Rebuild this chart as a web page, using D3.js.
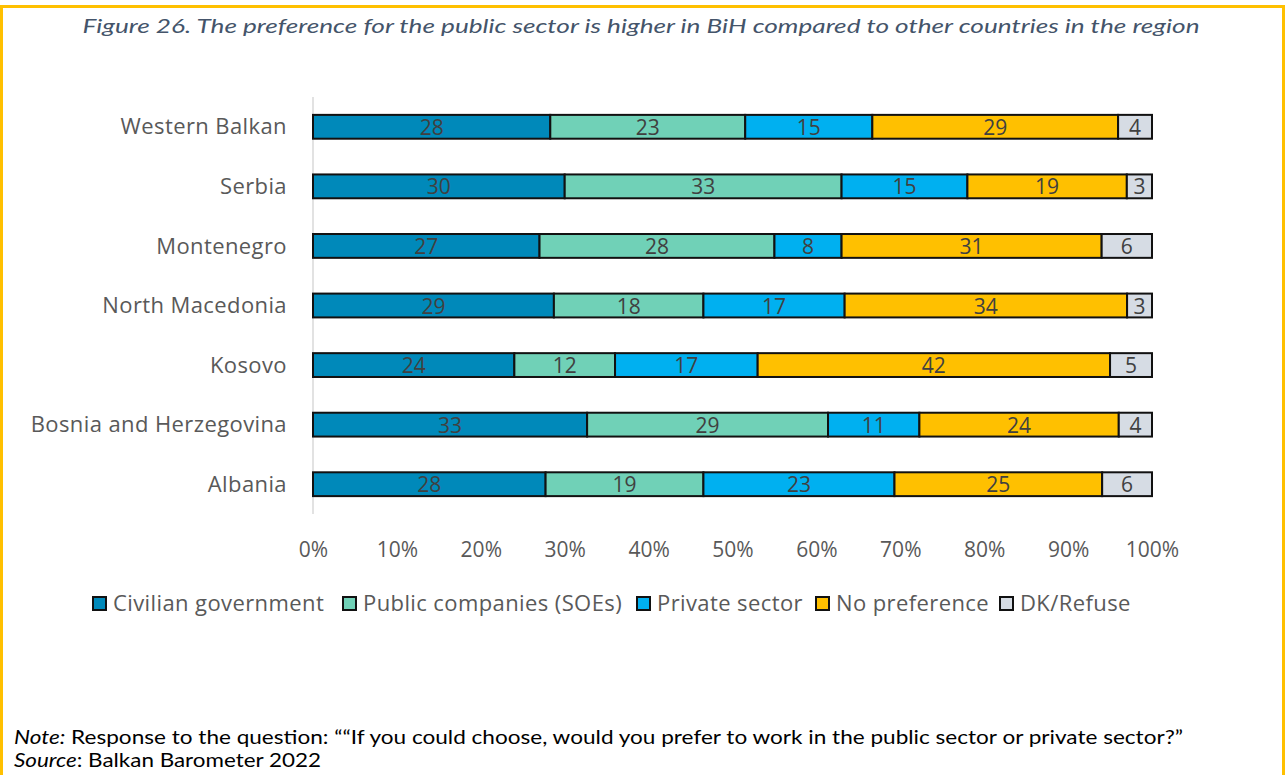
<!DOCTYPE html>
<html>
<head>
<meta charset="utf-8">
<script src="https://cdn.jsdelivr.net/npm/d3@7"></script>
<style>
  html, body { margin: 0; padding: 0; background: #fff; }
  svg { display: block; }
</style>
</head>
<body>
<svg id="chart" width="1288" height="775"></svg>
<script>
// Countries, top to bottom
const countries = ["Western Balkan", "Serbia", "Montenegro", "North Macedonia", "Kosovo", "Bosnia and Herzegovina", "Albania"];

// Series names and colours
const seriesNames = ["Civilian government", "Public companies (SOEs)", "Private sector", "No preference", "DK/Refuse"];
const seriesColors = ["#0089BA", "#70D1B7", "#00B0F0", "#FFC000", "#D6DCE4"];

// Share of respondents (%) per series, in country order
const civilianGov = [28, 30, 27, 29, 24, 33, 28];
const publicCompanies = [23, 33, 28, 18, 12, 29, 19];
const privateSector = [15, 15, 8, 17, 17, 11, 23];
const noPreference = [29, 19, 31, 34, 42, 24, 25];
const dkRefuse = [4, 3, 6, 3, 5, 4, 6];

const tickValues = [0, 0.1, 0.2, 0.3, 0.4, 0.5, 0.6, 0.7, 0.8, 0.9, 1.0];

const titleText = "Figure 26. The preference for the public sector is higher in BiH compared to other countries in the region";
const noteText = "Response to the question: \u201C\u201CIf you could choose, would you prefer to work in the public sector or private sector?\u201D";
const sourceText = "Balkan Barometer 2022";

const seriesValues = [civilianGov, publicCompanies, privateSector, noPreference, dkRefuse];
const rows = countries.map((c, i) => {
  const r = { country: c };
  seriesNames.forEach((s, j) => { r[s] = seriesValues[j][i]; });
  return r;
});

const svg = d3.select("#chart");
const W = 1288, H = 775;

// Frame
const gold = "#FFC000";
svg.append("rect").attr("x", 0).attr("y", 5).attr("width", 1285).attr("height", 3).attr("fill", gold);
svg.append("rect").attr("x", 0).attr("y", 5).attr("width", 3).attr("height", H - 5).attr("fill", gold);
svg.append("rect").attr("x", 1282).attr("y", 5).attr("width", 3).attr("height", H - 5).attr("fill", gold);

// Title
svg.append("text")
  .attr("x", 641).attr("y", 33)
  .attr("text-anchor", "middle")
  .attr("font-family", "Lato, 'Open Sans', sans-serif")
  .attr("font-style", "italic")
  .attr("font-size", 20)
  .attr("fill", "#44546A")
  .attr("textLength", 1117)
  .attr("lengthAdjust", "spacingAndGlyphs")
  .text(titleText);

// Scales
const x = d3.scaleLinear().domain([0, 1]).range([313, 1152]);
const y = d3.scaleBand().domain(countries).range([97, 514]).paddingInner(0.6).paddingOuter(0.3);

const stack = d3.stack().keys(seriesNames).offset(d3.stackOffsetExpand);
const layers = stack(rows);

const chartFont = "'Open Sans', 'Noto Sans', sans-serif";

// Vertical category axis line
svg.append("line")
  .attr("x1", 313).attr("x2", 313).attr("y1", 97).attr("y2", 514)
  .attr("stroke", "#D9D9D9").attr("stroke-width", 1.5);

// Bars
const gLayers = svg.append("g").selectAll("g").data(layers).join("g")
  .attr("fill", (d, i) => seriesColors[i]);

gLayers.selectAll("rect").data(d => d).join("rect")
  .attr("x", d => x(d[0]))
  .attr("y", d => y(d.data.country))
  .attr("width", d => x(d[1]) - x(d[0]))
  .attr("height", y.bandwidth())
  .attr("stroke", "#111")
  .attr("stroke-width", 2);

// Value labels
gLayers.each(function(layer, i) {
  d3.select(this).selectAll("text").data(layer).join("text")
    .attr("x", d => (x(d[0]) + x(d[1])) / 2)
    .attr("y", d => y(d.data.country) + y.bandwidth() / 2 + 8)
    .attr("text-anchor", "middle")
    .attr("font-family", chartFont)
    .attr("font-size", 21)
    .attr("fill", "#404040")
    .text(d => d.data[layer.key]);
});

// Category labels
const yAxis = d3.axisLeft(y).tickSize(0).tickPadding(26);
const gy = svg.append("g").attr("transform", "translate(313,0)").call(yAxis);
gy.select(".domain").remove();
gy.selectAll("text")
  .attr("font-family", chartFont)
  .attr("font-size", 22)
  .attr("letter-spacing", 0.4)
  .attr("fill", "#595959")
  .attr("dy", "0.35em");

// Percentage axis
const xAxis = d3.axisBottom(x).tickValues(tickValues).tickSize(0).tickPadding(0)
  .tickFormat(d3.format(".0%"));
const gx = svg.append("g").attr("transform", "translate(0,557)").call(xAxis);
gx.select(".domain").remove();
gx.selectAll("text")
  .attr("font-family", chartFont)
  .attr("font-size", 21)
  .attr("fill", "#595959")
  .attr("dy", 0);

// Legend
const legendX = [93, 343, 637, 816, 1000];
const legend = svg.append("g").selectAll("g").data(seriesNames).join("g")
  .attr("transform", (d, i) => `translate(${legendX[i]},597)`);
legend.append("rect")
  .attr("width", 13).attr("height", 13)
  .attr("fill", (d, i) => seriesColors[i])
  .attr("stroke", "#111").attr("stroke-width", 2);
legend.append("text")
  .attr("x", 20).attr("y", 14)
  .attr("font-family", chartFont)
  .attr("font-size", 22)
  .attr("letter-spacing", 0.4)
  .attr("fill", "#595959")
  .text(d => d);

// Note and source
const note = svg.append("text")
  .attr("x", 14).attr("y", 744)
  .attr("font-family", "Lato, 'Open Sans', sans-serif")
  .attr("font-size", 19)
  .attr("fill", "#000")
  .attr("textLength", 1169)
  .attr("lengthAdjust", "spacingAndGlyphs");
note.append("tspan").attr("font-style", "italic").text("Note:");
note.append("tspan").text(" " + noteText);

const src = svg.append("text")
  .attr("x", 14).attr("y", 767)
  .attr("font-family", "Lato, 'Open Sans', sans-serif")
  .attr("font-size", 19)
  .attr("fill", "#000")
  .attr("textLength", 307)
  .attr("lengthAdjust", "spacingAndGlyphs");
src.append("tspan").attr("font-style", "italic").text("Source");
src.append("tspan").text(": " + sourceText);
</script>
</body>
</html>
